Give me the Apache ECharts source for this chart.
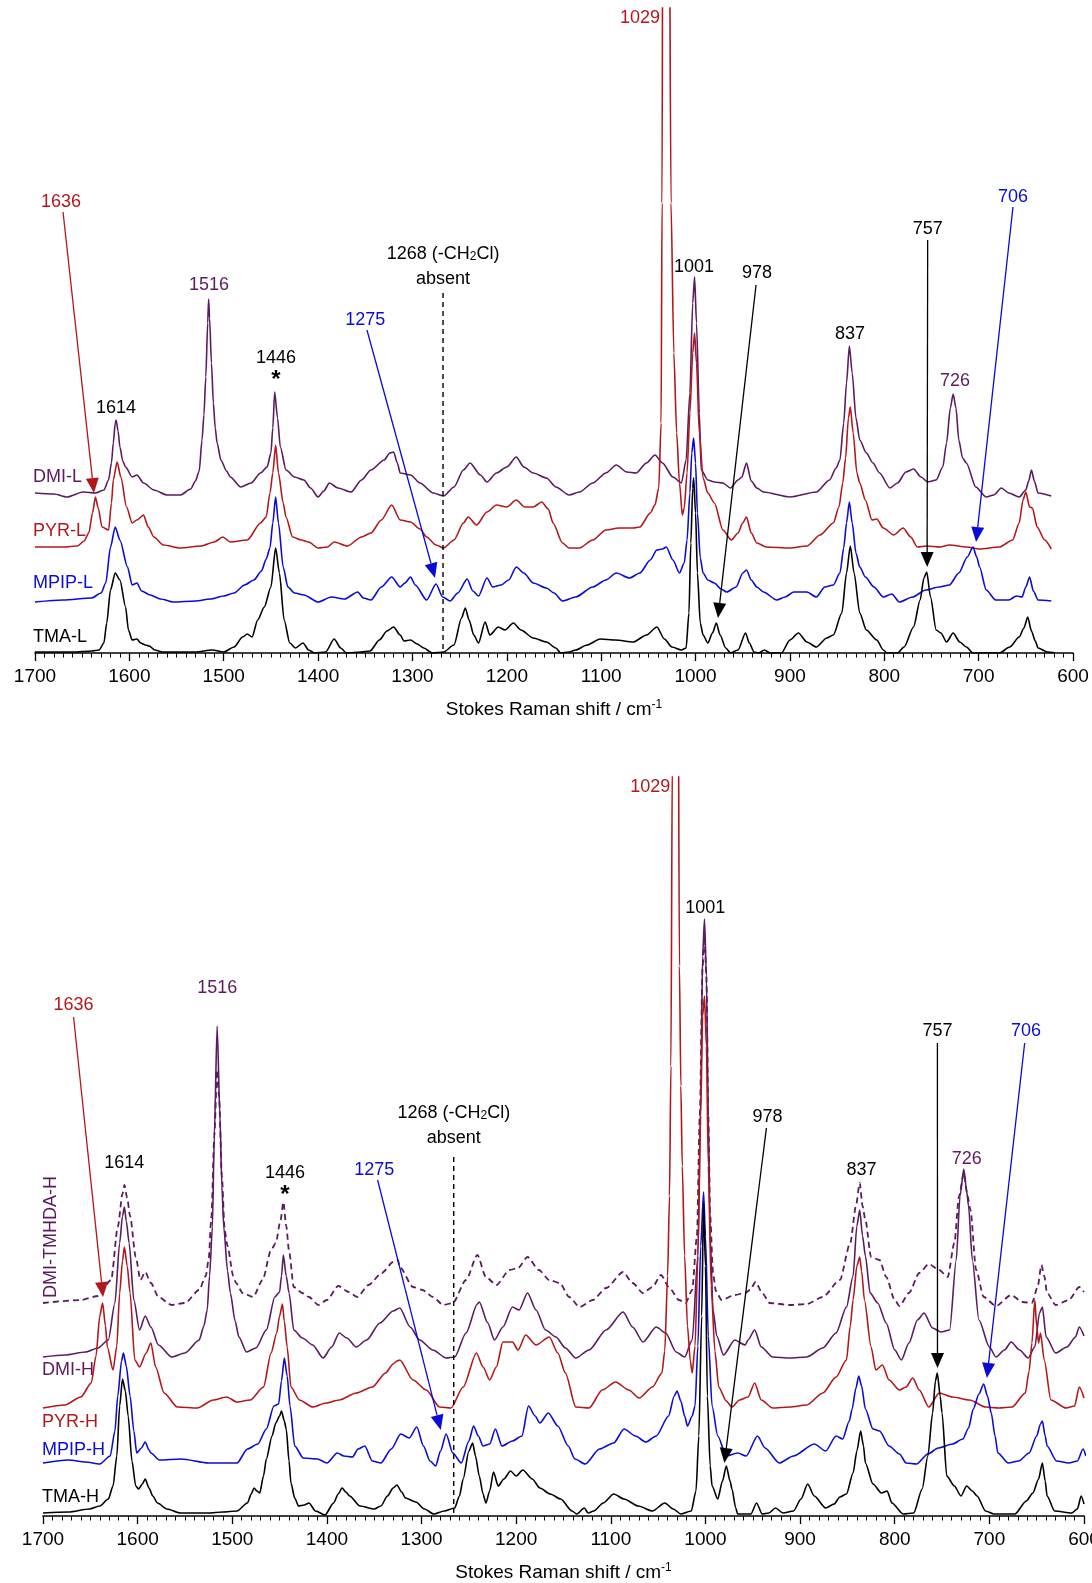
<!DOCTYPE html>
<html><head><meta charset="utf-8">
<script src="https://cdn.jsdelivr.net/npm/echarts/dist/echarts.min.js"></script>
<style>html,body{margin:0;padding:0;background:#fff}#c{width:1092px;height:1583px}</style>
</head><body><div id="c"></div><script>
// ---------- Top panel spectra: [wavenumber, stacked intensity] ----------
const TMA_L = [[1700,1],[1660,1],[1640,2],[1632,3],[1627,10],[1624,30],[1620,63],[1615,80],[1610,73],[1604,46],[1601,23],[1597,13],[1592,14],[1588,10],[1583,8],[1579,7],[1573,3],[1565,1],[1530,1],[1512,3],[1500,1],[1489,6],[1480,16],[1475,19],[1470,16],[1464,33],[1457,46],[1450,66],[1445,105],[1441,80],[1436,33],[1430,10],[1424,5],[1416,10],[1410,3],[1404,0],[1392,1],[1383,14],[1376,5],[1370,0],[1355,1],[1345,2],[1335,13],[1327,22],[1320,26],[1313,18],[1309,12],[1302,13],[1295,9],[1288,5],[1279,0],[1267,1],[1256,8],[1248,35],[1244,45],[1240,33],[1235,18],[1230,10],[1223,31],[1218,18],[1209,26],[1202,23],[1193,30],[1185,23],[1172,15],[1158,11],[1148,5],[1143,0],[1134,1],[1127,3],[1115,8],[1101,14],[1085,13],[1066,11],[1052,18],[1041,26],[1033,14],[1025,6],[1015,3],[1010,5],[1007,40],[1005,110],[1003,165],[1002,175],[1000,140],[998,80],[995,30],[992,18],[987,10],[982,20],[978,30],[974,18],[968,5],[963,0],[955,3],[947,20],[943,10],[938,1],[933,0],[927,3],[921,0],[909,0],[900,13],[891,20],[882,11],[872,6],[861,15],[854,18],[845,40],[840,80],[836,107],[832,80],[826,40],[819,23],[808,13],[801,3],[797,0],[786,0],[779,6],[769,26],[762,53],[758,75],[755,81],[751,56],[745,23],[740,20],[734,11],[727,20],[720,11],[713,6],[706,0],[678,0],[667,6],[657,16],[652,25],[648,36],[644,22],[640,12],[637,5],[627,1],[619,0]];
const MPIP_L = [[1700,51],[1670,53],[1640,55],[1630,60],[1625,70],[1620,106],[1615,126],[1610,113],[1602,86],[1597,68],[1592,70],[1587,62],[1578,58],[1567,54],[1553,51],[1530,52],[1514,54],[1500,57],[1489,60],[1478,68],[1468,73],[1460,82],[1455,94],[1451,105],[1448,130],[1445,156],[1442,130],[1437,86],[1432,66],[1425,60],[1415,58],[1400,51],[1386,56],[1372,54],[1358,61],[1352,55],[1344,53],[1333,66],[1322,76],[1313,66],[1308,70],[1302,76],[1297,68],[1285,53],[1275,69],[1268,56],[1260,52],[1252,60],[1242,74],[1236,62],[1230,57],[1221,75],[1215,66],[1206,68],[1198,73],[1190,86],[1182,80],[1172,70],[1158,65],[1150,60],[1141,52],[1127,56],[1109,66],[1095,73],[1084,80],[1070,75],[1059,80],[1048,93],[1041,103],[1035,104],[1031,106],[1024,93],[1017,80],[1012,90],[1009,113],[1006,160],[1004,200],[1002,215],[1000,190],[998,140],[995,95],[992,80],[987,73],[980,70],[973,64],[967,61],[957,66],[950,80],[946,83],[941,73],[935,66],[928,61],[914,53],[905,56],[896,61],[882,61],[872,56],[863,66],[854,68],[847,80],[843,105],[840,130],[837,151],[834,130],[830,100],[826,86],[820,76],[811,66],[801,56],[792,59],[784,51],[770,56],[756,63],[742,66],[731,68],[721,80],[712,96],[706,106],[702,96],[699,86],[692,63],[682,53],[668,53],[660,57],[654,56],[650,66],[646,76],[642,62],[637,53],[623,52]];
const PYR_L = [[1700,106],[1670,106],[1655,107],[1648,112],[1643,120],[1639,140],[1636,156],[1633,145],[1629,126],[1622,123],[1619,150],[1617,173],[1613,191],[1609,176],[1603,146],[1597,130],[1592,133],[1585,138],[1580,126],[1574,116],[1564,108],[1546,105],[1524,107],[1510,111],[1501,116],[1493,111],[1475,113],[1461,130],[1455,136],[1451,160],[1448,180],[1445,208],[1442,180],[1437,150],[1434,136],[1427,116],[1418,113],[1410,111],[1400,105],[1390,106],[1383,111],[1369,107],[1354,116],[1344,120],[1333,133],[1322,148],[1313,133],[1302,131],[1292,124],[1285,116],[1275,108],[1267,105],[1256,113],[1246,130],[1241,136],[1232,128],[1221,141],[1211,148],[1200,146],[1190,153],[1181,146],[1172,146],[1163,151],[1156,144],[1151,130],[1141,110],[1134,105],[1123,105],[1109,113],[1095,123],[1081,125],[1066,125],[1059,126],[1048,140],[1043,148],[1039,165],[1036.5,230],[1035.5,450],[1034.5,900],[1032,1600],[1030,1600],[1028,800],[1026,450],[1023,300],[1020,220],[1017,170],[1014,138],[1012,145],[1009,180],[1006,240],[1003,300],[1001,320],[999,290],[996,220],[992,175],[987,160],[980,150],[971,123],[962,113],[955,120],[950,130],[946,136],[941,120],[935,110],[925,106],[900,105],[882,107],[868,118],[854,130],[848,146],[844,170],[841,195],[838,235],[836,246],[833,220],[829,180],[826,170],[820,153],[813,133],[808,134],[801,125],[790,118],[780,125],[772,116],[765,106],[755,107],[741,106],[731,108],[713,106],[699,104],[678,106],[664,113],[657,130],[653,153],[650,161],[646,146],[643,145],[638,126],[630,113],[623,104]];
const DMI_L = [[1700,160],[1680,159],[1666,156],[1649,161],[1636,160],[1627,163],[1622,173],[1619,190],[1617,210],[1615,230],[1614,233],[1612,222],[1610,206],[1607,192],[1604,186],[1597,176],[1592,178],[1585,170],[1574,163],[1560,158],[1546,158],[1535,164],[1530,172],[1526,182],[1523,213],[1521,238],[1519,276],[1517,330],[1516,354],[1515,335],[1513,290],[1511,250],[1509,225],[1507,210],[1503,193],[1497,182],[1493,176],[1482,166],[1471,170],[1461,180],[1454,186],[1450,200],[1448,225],[1446,261],[1443,235],[1440,206],[1434,183],[1425,176],[1415,173],[1408,165],[1400,156],[1394,162],[1388,170],[1379,165],[1365,161],[1354,173],[1344,183],[1330,193],[1324,200],[1320,201],[1316,190],[1313,180],[1302,178],[1292,170],[1278,160],[1267,157],[1256,166],[1246,183],[1239,190],[1228,178],[1221,171],[1211,180],[1200,186],[1190,196],[1182,186],[1172,180],[1158,175],[1148,166],[1134,158],[1123,161],[1109,170],[1095,180],[1084,188],[1073,181],[1063,180],[1052,190],[1043,198],[1035,190],[1024,176],[1015,170],[1010,193],[1006,260],[1003,350],[1001,376],[999,330],[996,240],[994,183],[987,173],[980,171],[971,170],[963,165],[955,173],[951,176],[946,190],[941,172],[935,165],[928,161],[900,156],[872,161],[858,173],[851,185],[847,193],[843,230],[840,270],[837,307],[834,280],[830,235],[826,213],[819,200],[812,190],[805,180],[794,165],[786,170],[777,181],[769,184],[761,176],[754,171],[745,173],[738,186],[734,210],[730,245],[727,259],[724,245],[721,213],[717,195],[713,190],[703,166],[692,156],[684,158],[676,165],[668,160],[657,156],[650,163],[647,172],[644,183],[641,172],[637,160],[623,157]];

// ---------- Bottom panel spectra ----------
const TMA_H = [[1700,3],[1673,4],[1651,7],[1640,10],[1631,17],[1626,30],[1622,60],[1619,110],[1616,137],[1613,125],[1610,100],[1606,55],[1602,30],[1599,27],[1595,32],[1592,37],[1588,28],[1584,20],[1579,13],[1569,7],[1555,3],[1525,3],[1510,4],[1495,5],[1484,13],[1480,22],[1477,28],[1474,25],[1471,23],[1467,40],[1464,57],[1458,80],[1454,93],[1450,100],[1448,105],[1445,95],[1443,87],[1440,55],[1438,33],[1434,18],[1430,10],[1424,11],[1419,13],[1412,5],[1402,1],[1393,13],[1388,22],[1384,28],[1380,24],[1376,20],[1365,10],[1350,7],[1343,10],[1336,20],[1330,28],[1326,31],[1321,24],[1317,18],[1306,14],[1297,7],[1287,2],[1276,5],[1265,8],[1260,20],[1256,37],[1250,65],[1246,73],[1243,60],[1239,40],[1235,22],[1232,13],[1228,25],[1224,44],[1219,30],[1213,37],[1206,45],[1200,40],[1193,46],[1183,37],[1175,28],[1164,22],[1153,17],[1141,5],[1136,2],[1128,8],[1124,3],[1118,5],[1108,13],[1097,22],[1086,17],[1071,10],[1056,5],[1043,13],[1034,7],[1026,2],[1015,5],[1010,25],[1007,80],[1004,200],[1002,313],[1000,250],[998,120],[995,50],[993,30],[987,17],[982,35],[978,50],[974,35],[972,27],[968,8],[966,2],[952,2],[946,13],[940,2],[933,3],[926,8],[918,3],[907,5],[899,17],[892,32],[885,20],[873,8],[864,12],[858,19],[851,22],[844,43],[840,65],[836,85],[833,70],[831,53],[823,32],[814,23],[808,25],[803,13],[791,2],[780,3],[771,27],[765,60],[760,103],[757,135],[755,143],[752,120],[750,103],[745,40],[737,30],[730,20],[724,30],[718,25],[713,20],[704,5],[695,2],[673,2],[661,15],[654,23],[648,37],[644,53],[641,35],[639,20],[631,5],[613,3],[607,7],[603,20],[600,12]];
const MPIP_H = [[1700,53],[1673,56],[1655,54],[1640,52],[1629,60],[1624,85],[1621,120],[1617,155],[1615,163],[1612,150],[1608,120],[1604,85],[1601,63],[1596,68],[1592,74],[1588,66],[1586,63],[1577,56],[1554,57],[1525,53],[1495,53],[1484,67],[1473,72],[1464,87],[1456,110],[1451,112],[1448,135],[1445,158],[1442,140],[1439,110],[1434,70],[1425,58],[1410,57],[1400,53],[1389,63],[1382,60],[1373,59],[1367,67],[1360,70],[1352,55],[1343,53],[1332,67],[1322,82],[1313,78],[1305,89],[1298,70],[1291,55],[1285,50],[1280,65],[1274,82],[1267,63],[1258,53],[1250,75],[1245,90],[1240,80],[1235,70],[1228,72],[1222,87],[1215,70],[1204,75],[1194,80],[1187,110],[1180,100],[1175,93],[1166,103],[1156,90],[1145,70],[1138,57],[1127,52],[1112,67],[1097,73],[1086,87],[1074,80],[1063,74],[1052,80],[1039,100],[1033,120],[1030,125],[1026,115],[1022,100],[1019,90],[1014,100],[1011,110],[1008,170],[1005,270],[1002,324],[1000,280],[997,180],[993,110],[987,80],[978,60],[966,63],[957,60],[945,80],[937,68],[922,53],[907,60],[885,72],[873,65],[862,80],[855,77],[848,95],[845,107],[841,128],[838,140],[835,130],[831,107],[823,87],[816,85],[806,70],[795,62],[788,53],[777,52],[765,62],[754,68],[739,72],[728,77],[722,88],[717,107],[711,122],[706,132],[702,120],[698,103],[694,80],[691,63],[680,53],[669,55],[658,63],[650,80],[646,92],[644,95],[641,80],[639,70],[629,55],[616,53],[607,55],[601,67],[598,60]];
const PYR_H = [[1700,108],[1677,111],[1660,119],[1649,133],[1644,160],[1640,200],[1637,213],[1634,190],[1632,169],[1626,146],[1622,170],[1619,223],[1616,255],[1614,269],[1611,250],[1608,223],[1603,156],[1598,149],[1591,163],[1586,173],[1581,149],[1572,123],[1558,109],[1537,108],[1520,116],[1506,119],[1495,114],[1481,116],[1467,129],[1459,163],[1453,183],[1450,200],[1447,212],[1445,195],[1442,169],[1438,129],[1429,116],[1415,109],[1401,113],[1387,116],[1369,123],[1352,129],[1338,143],[1330,152],[1326,155],[1323,156],[1309,136],[1295,126],[1281,109],[1269,108],[1256,129],[1242,163],[1235,149],[1228,136],[1221,149],[1214,174],[1204,174],[1198,166],[1190,181],[1179,171],[1165,179],[1156,163],[1148,143],[1137,109],[1123,108],[1109,126],[1095,134],[1081,126],[1070,118],[1056,129],[1046,143],[1043,165],[1040,240],[1038,320],[1036.5,450],[1035,760],[1033,1400],[1031,1600],[1029,900],[1027.5,550],[1026,430],[1024.5,350],[1022,260],[1019,190],[1016,155],[1014,143],[1011,170],[1008,260],[1005,400],[1003,500],[1001,520],[999,470],[997,350],[994,230],[990,165],[986,129],[978,115],[972,109],[964,116],[955,119],[948,133],[941,116],[929,108],[911,109],[893,111],[876,123],[862,139],[851,156],[847,190],[844,216],[840,250],[837,259],[835,245],[832,216],[825,169],[820,146],[813,151],[806,136],[795,126],[788,129],[781,138],[774,126],[764,109],[753,123],[739,119],[721,116],[704,109],[690,108],[676,109],[662,123],[658,145],[655,173],[652,216],[650,190],[648,173],[646,183],[642,156],[635,116],[619,108],[610,110],[605,129],[600,118]];
const DMI_H = [[1700,159],[1677,161],[1655,164],[1642,168],[1631,176],[1624,213],[1619,273],[1616,300],[1614,309],[1612,295],[1609,273],[1604,216],[1598,186],[1592,200],[1586,189],[1578,171],[1564,159],[1550,163],[1535,176],[1530,190],[1526.5,206],[1524,240],[1521,289],[1519,380],[1516,490],[1513,400],[1511,330],[1509,289],[1505,245],[1502,223],[1497,195],[1493,179],[1485,164],[1475,168],[1464,186],[1455,219],[1450,224],[1448,240],[1446,261],[1443,240],[1440,223],[1435,186],[1426,178],[1415,171],[1404,158],[1395,169],[1387,183],[1379,178],[1369,169],[1358,176],[1344,193],[1330,205],[1323,208],[1312,189],[1302,176],[1288,166],[1274,158],[1265,159],[1253,183],[1241,212],[1239,214],[1230,193],[1223,176],[1214,189],[1204,209],[1197,206],[1188,223],[1179,206],[1169,186],[1158,179],[1148,168],[1137,158],[1123,166],[1105,186],[1087,204],[1077,189],[1066,174],[1052,189],[1042,183],[1031,164],[1022,159],[1014,176],[1008,260],[1005,420],[1003,560],[1001,597],[999,540],[997,400],[995,280],[992,206],[988,180],[981,161],[969,176],[958,171],[955,176],[948,186],[941,169],[929,159],[911,158],[893,159],[876,168],[862,183],[851,209],[844,240],[840,290],[837,306],[834,280],[831,260],[826,223],[818,213],[809,193],[800,166],[793,156],[785,173],[776,196],[769,203],[760,188],[751,184],[742,186],[735,256],[731,320],[727,347],[724,325],[722,310],[718,256],[711,196],[700,169],[693,159],[684,166],[677,174],[668,166],[659,158],[652,169],[647,203],[644,209],[640,179],[630,163],[618,169],[609,179],[605,189],[600,180]];
const DMI_TMHDA_H = [[1700,213],[1660,216],[1642,220],[1628,236],[1621,289],[1616,322],[1614,331],[1611,318],[1608,300],[1602,259],[1597,236],[1592,244],[1586,233],[1578,219],[1564,211],[1550,213],[1535,226],[1528,240],[1525,256],[1522,300],[1519,380],[1516,446],[1514,420],[1511,340],[1508,285],[1505,270],[1499,240],[1496,233],[1489,223],[1478,219],[1468,236],[1459,266],[1454,273],[1449,296],[1446,314],[1443,290],[1440,265],[1435,229],[1426,223],[1419,219],[1409,211],[1400,216],[1388,230],[1377,224],[1368,219],[1356,231],[1342,243],[1330,254],[1325,256],[1323,249],[1309,229],[1299,226],[1288,219],[1277,211],[1267,213],[1253,236],[1241,261],[1232,239],[1221,231],[1207,246],[1198,248],[1188,259],[1176,246],[1165,236],[1154,233],[1144,219],[1133,209],[1119,216],[1105,228],[1087,244],[1077,233],[1066,223],[1056,229],[1047,241],[1038,228],[1028,216],[1021,213],[1014,226],[1009,280],[1006,400],[1003,550],[1001,580],[999,540],[997,400],[995,300],[992,243],[989,225],[983,216],[969,221],[958,223],[953,226],[947,234],[940,223],[932,213],[911,211],[893,212],[876,219],[858,236],[847,273],[841,310],[837,333],[834,310],[831,296],[825,259],[816,256],[809,239],[800,216],[795,210],[785,223],[774,243],[764,252],[753,246],[744,239],[737,273],[732,320],[727,343],[723,320],[720,306],[714,246],[706,219],[693,210],[677,221],[665,214],[655,213],[649,229],[645,251],[642,240],[639,223],[630,211],[616,216],[605,229],[600,224]];

// ---------- Annotations: [text, colour, wavenumber, height, align] ----------
const TOP_LABELS = [['1029','red',1037.6,635,'right'],['1636','red',1672.4,451,'center'],['1516','purple',1515.6,368,'center'],['1614','black',1614.2,245,'center'],['1446','black',1444.6,295,'center'],['1268 (-CH{sub|2}Cl)','black',1267.6,399,'center'],['absent','black',1267.6,374,'center'],['1275','blue',1350,333,'center'],['1001','black',1001.6,386,'center'],['978','black',934.8,380,'center'],['837','black',836.3,319,'center'],['757','black',754,424,'center'],['726','purple',725,272,'center'],['706','blue',663.5,456,'center']];
const TOP_STARS = [[1444.6,273]];
const TOP_ARROWS = [['red',1670.3,441,1637.5,160],['blue',1348.2,323,1276.1,75],['black',935.9,368,976.2,35],['black',754,413,754.6,86],['blue',663.6,446,702.7,111]];
const TOP_DASH = [1267.6,360,0];
const TOP_TRACE_LABELS = [['DMI-L','purple',1702,176],['PYR-L','red',1702,122],['MPIP-L','blue',1702,70],['TMA-L','black',1702,16]];

const BOT_LABELS = [['1029','red',1037.2,729,'right'],['1001','black',1000.2,608,'center'],['1516','purple',1515.8,528,'center'],['1636','red',1667.7,511,'center'],['757','black',754.9,485,'center'],['706','blue',661.3,485,'center'],['978','black',934.5,399,'center'],['1268 (-CH{sub|2}Cl)','black',1265.9,403,'center'],['absent','black',1265.9,378,'center'],['1614','black',1614.2,353,'center'],['1446','black',1444.3,343,'center'],['1275','blue',1350,346,'center'],['837','black',835,346,'center'],['726','purple',723.8,357,'center']];
const BOT_STARS = [[1444.3,321]];
const BOT_ARROWS = [['red',1667.7,499,1636.5,219],['blue',1346.4,336,1279.7,86],['black',935.6,388,980,53],['black',754.9,473,754.8,148],['blue',662.7,473,702.6,138]];
const BOT_DASH = [1266,359,0];
const BOT_TRACE_LABELS = [['DMI-H','purple',1701,146],['PYR-H','red',1701,94],['MPIP-H','blue',1701,66],['TMA-H','black',1701,19]];
const BOT_ROT_LABEL = ['DMI-TMHDA-H','purple',1691.5,279];

const COL = {purple:'#5c1a60', red:'#b2181b', blue:'#0b0bd6', black:'#000000'};
const FONT = "'Liberation Sans', Arial, Helvetica, sans-serif";

function xAx(gi){
  return {gridIndex:gi, type:'value', inverse:true, min:600, max:1700, interval:100,
    axisLine:{show:true, onZero:false, lineStyle:{color:'#000', width:1.6}},
    axisTick:{show:true, length:8, lineStyle:{color:'#000', width:1.3}},
    minorTick:{show:true, splitNumber:10, length:4.5, lineStyle:{color:'#000', width:1}},
    axisLabel:{color:'#000', fontSize:19, fontFamily:FONT, margin:14, formatter:function(v){return String(v);}},
    splitLine:{show:false}, minorSplitLine:{show:false},
    name:'{a|Stokes Raman shift / cm}{s|-1}', nameLocation:'middle', nameGap:46,
    nameTextStyle:{color:'#000', fontFamily:FONT, rich:{a:{fontSize:19, lineHeight:22, fontFamily:FONT, color:'#000'}, s:{fontSize:12, lineHeight:12, verticalAlign:'top', fontFamily:FONT, color:'#000'}}}
  };
}
function yAx(gi, max){ return {gridIndex:gi, type:'value', min:0, max:max, show:false}; }
function ser(gi, data, col, dashed){
  return {type:'line', xAxisIndex:gi, yAxisIndex:gi, data:data, symbol:'none', showSymbol:false,
    smooth:0.25, smoothMonotone:'x', clip:true, silent:true, animation:false,
    lineStyle:{color:COL[col], width:dashed?1.8:1.6, type:dashed?[6,4]:'solid'}};
}

const chart = echarts.init(document.getElementById('c'), null, {renderer:'canvas'});
chart.setOption({
  animation:false, backgroundColor:'#ffffff',
  grid:[{left:35, right:19, top:8, bottom:930, containLabel:false, outerBoundsMode:'none'},
        {left:43, right:8, top:777, bottom:67, containLabel:false, outerBoundsMode:'none'}],
  xAxis:[xAx(0), xAx(1)],
  yAxis:[yAx(0,645), yAx(1,739)],
  series:[
    ser(0, DMI_L, 'purple'), ser(0, PYR_L, 'red'), ser(0, MPIP_L, 'blue'), ser(0, TMA_L, 'black'),
    ser(1, DMI_TMHDA_H, 'purple', true), ser(1, DMI_H, 'purple'), ser(1, PYR_H, 'red'), ser(1, MPIP_H, 'blue'), ser(1, TMA_H, 'black')
  ]
});

const G = [];
function P(gi, w, h){ return chart.convertToPixel({gridIndex:gi}, [w, h]); }
const RICH = {sub:{fontSize:12, lineHeight:12, verticalAlign:'bottom', fontFamily:FONT, fill:'#000'}};
function addText(gi, t, col, w, h, align){
  const p = P(gi, w, h);
  G.push({type:'text', x:p[0], y:p[1], z:20, silent:true,
    style:{text:t, fill:COL[col], fontSize:18, fontFamily:FONT, align:align||'center', verticalAlign:'middle', rich:RICH}});
}
function addArrow(gi, a){
  const col = COL[a[0]];
  const p1 = P(gi, a[1], a[2]), p2 = P(gi, a[3], a[4]);
  const dx = p2[0]-p1[0], dy = p2[1]-p1[1], L = Math.hypot(dx, dy);
  const ux = dx/L, uy = dy/L, hl = 15, hw = 6.5;
  const bx = p2[0]-ux*hl, by = p2[1]-uy*hl;
  G.push({type:'line', z:20, silent:true, shape:{x1:p1[0], y1:p1[1], x2:bx, y2:by}, style:{stroke:col, lineWidth:1.3}});
  G.push({type:'polygon', z:20, silent:true, shape:{points:[[p2[0],p2[1]],[bx-uy*hw, by+ux*hw],[bx+uy*hw, by-ux*hw]]}, style:{fill:col}});
}
function addDash(gi, d){
  const p1 = P(gi, d[0], d[1]), p2 = P(gi, d[0], d[2]);
  G.push({type:'line', z:15, silent:true, shape:{x1:p1[0], y1:p1[1], x2:p2[0], y2:p2[1]}, style:{stroke:'#000', lineWidth:1.4, lineDash:[5,4]}});
}
function addStar(gi, s){
  const p = P(gi, s[0], s[1]);
  G.push({type:'text', x:p[0], y:p[1], z:20, silent:true, style:{text:'*', fill:'#000', fontSize:24, fontWeight:'bold', fontFamily:FONT, align:'center', verticalAlign:'middle'}});
}

TOP_LABELS.forEach(l => addText(0, l[0], l[1], l[2], l[3], l[4]));
TOP_STARS.forEach(s => addStar(0, s));
TOP_ARROWS.forEach(a => addArrow(0, a));
addDash(0, TOP_DASH);
TOP_TRACE_LABELS.forEach(l => addText(0, l[0], l[1], l[2], l[3], 'left'));

BOT_LABELS.forEach(l => addText(1, l[0], l[1], l[2], l[3], l[4]));
BOT_STARS.forEach(s => addStar(1, s));
BOT_ARROWS.forEach(a => addArrow(1, a));
addDash(1, BOT_DASH);
BOT_TRACE_LABELS.forEach(l => addText(1, l[0], l[1], l[2], l[3], 'left'));
(function(){
  const r = BOT_ROT_LABEL, p = P(1, r[2], r[3]);
  G.push({type:'text', x:p[0], y:p[1], rotation:Math.PI/2, z:20, silent:true,
    style:{text:r[0], fill:COL[r[1]], fontSize:18, fontFamily:FONT, align:'center', verticalAlign:'middle'}});
})();

chart.setOption({graphic:{elements:G}});
</script></body></html>
